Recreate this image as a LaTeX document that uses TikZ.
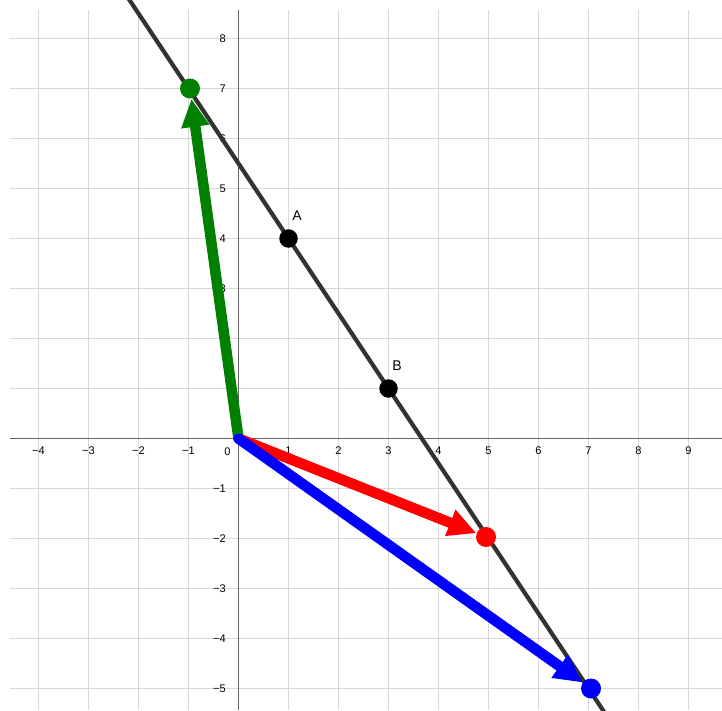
\documentclass[tikz,border=0pt]{standalone}
\usepackage{fontspec}
\setmainfont{Liberation Sans}
\usetikzlibrary{arrows.meta}

\definecolor{ggreen}{RGB}{0,128,0}
\definecolor{lineclr}{RGB}{51,51,51}
\definecolor{axisclr}{RGB}{100,100,100}
\definecolor{gridclr}{RGB}{215,215,215}

\begin{document}
\begin{tikzpicture}[every node/.style={font=\fontsize{6.3}{7}\selectfont},
    vec/.style={line width=6pt,line cap=round,-{Triangle[length=16pt,width=15pt]}},
    ptblack/.style={circle,fill=black,inner sep=0pt,minimum size=0.37cm},
    ptcol/.style={circle,inner sep=0pt,minimum size=0.4cm}]
    \useasboundingbox (-4.77,-5.43) rectangle (9.67,8.77);
    % grid and axes
    \begin{scope}
      \clip (-4.57,-5.43) rectangle (9.67,8.57);
      \draw[gridclr,line width=1.1pt] (-4.57,-5.43) grid (9.67,8.57);
      \draw[axisclr,line width=1pt] (-4.57,0) -- (9.67,0);
      \draw[axisclr,line width=1pt] (0,-5.43) -- (0,8.57);
    \end{scope}
    % tick labels
    \foreach \x in {1,...,4} \node (xn\x) at (-\x,-0.25) {−\x};
    \foreach \x in {1,...,9} \node (xp\x) at (\x,-0.25) {\x};
    \node (xo) at (-0.22,-0.26) {0};
    \foreach \y in {3,...,8} \node[anchor=east] (yp\y) at (-0.13,\y) {\y};
    \foreach \y in {1,...,5} \node[anchor=east] (yn\y) at (-0.13,-\y) {−\y};
    % line through A and B
    \begin{scope}
      \clip (-4.77,-5.43) rectangle (9.67,8.77);
      \draw[lineclr,line width=2.4pt] (-3,10) -- (8,-6.5);
    \end{scope}
    \node[ptblack] (A) at (1,4) {};
    \node[ptblack] (B) at (3,1) {};
    \node[font=\fontsize{8}{9}\selectfont] (lA) at (1.17,4.45) {A};
    \node[font=\fontsize{8}{9}\selectfont] (lB) at (3.17,1.45) {B};
    % vectors
    \coordinate (O) at (0,0);
    \node[ptcol] (R) at (4.95,-1.97) {};
    \node[ptcol] (G) at (-0.97,7) {};
    \node[ptcol] (U) at (7.05,-5) {};
    \draw[vec,red] (O) -- (R);
    \draw[vec,ggreen] (O) -- (G);
    \draw[vec,blue] (O) -- (U);
    \fill[red] (R) circle (0.2);
    \fill[ggreen] (G) circle (0.2);
    \fill[blue] (U) circle (0.2);
\end{tikzpicture}
\end{document}
